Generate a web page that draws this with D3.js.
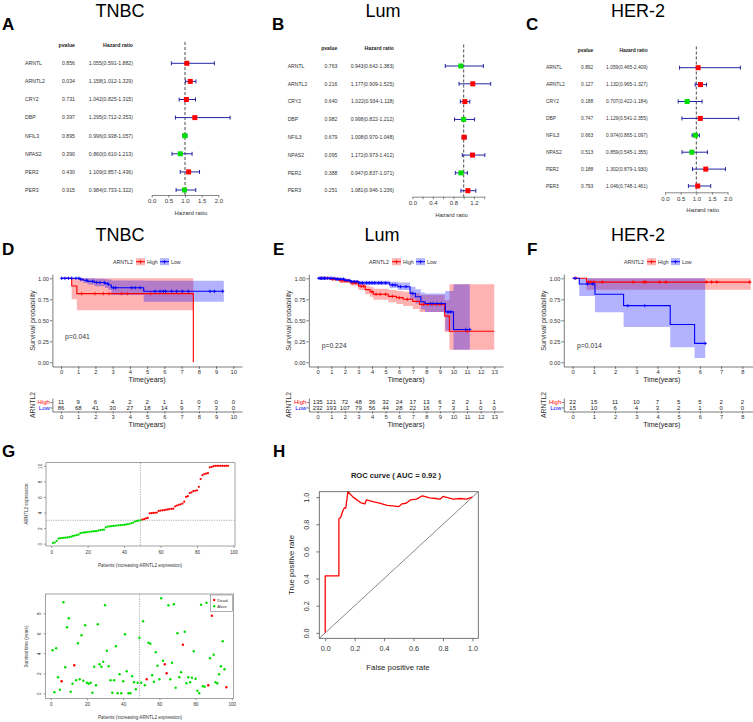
<!DOCTYPE html>
<html>
<head>
<meta charset="utf-8">
<script src="https://cdn.jsdelivr.net/npm/d3@7"></script>
<style>
  body { margin: 0; background: #fff; }
</style>
</head>
<body>
<svg id="fig" width="753" height="722"></svg>
<script>
// ---------- data ----------
const genes = ["ARNTL", "ARNTL2", "CRY2", "DBP", "NFIL3", "NPAS2", "PER2", "PER3"];

const tnbcP    = [0.856, 0.034, 0.731, 0.397, 0.895, 0.390, 0.430, 0.915];
const tnbcHR   = [1.055, 1.158, 1.042, 1.295, 0.996, 0.860, 1.109, 0.984];
const tnbcLow  = [0.591, 1.012, 0.825, 0.712, 0.938, 0.610, 0.857, 0.733];
const tnbcHigh = [1.882, 1.329, 1.315, 2.353, 1.057, 1.213, 1.436, 1.322];

const lumP    = [0.763, 0.216, 0.640, 0.982, 0.679, 0.095, 0.388, 0.251];
const lumHR   = [0.943, 1.177, 1.022, 0.998, 1.008, 1.172, 0.947, 1.081];
const lumLow  = [0.642, 0.909, 0.934, 0.822, 0.970, 0.973, 0.837, 0.946];
const lumHigh = [1.383, 1.525, 1.118, 1.212, 1.048, 1.412, 1.071, 1.236];

const her2P    = [0.892, 0.127, 0.188, 0.747, 0.663, 0.513, 0.188, 0.793];
const her2HR   = [1.059, 1.132, 0.707, 1.129, 0.974, 0.859, 1.302, 1.046];
const her2Low  = [0.465, 0.965, 0.422, 0.541, 0.865, 0.545, 0.879, 0.748];
const her2High = [2.409, 1.327, 1.184, 2.355, 1.097, 1.355, 1.930, 1.461];

const tnbcForestTicks = [0, 0.5, 1, 1.5, 2];
const lumForestTicks = [0, 0.2, 0.4, 0.6, 0.8, 1.0, 1.2, 1.4];
const lumForestLabels = [0, 0.4, 0.8, 1.2];
const her2ForestTicks = [0, 0.5, 1, 1.5, 2];

// Kaplan-Meier step data (time in years)
const tnbcHighTime   = [0, 0.62, 0.92, 7.68];
const tnbcHighSurv   = [1, 0.909, 0.818, 0];
const tnbcHighLower  = [1, 0.75, 0.62, 0.62];
const tnbcHighUpper  = [1, 1, 1, 1];
const tnbcHighCensor = [1.2, 1.97, 2.46, 2.79, 3.52, 3.85, 5.2];
const tnbcLowTime   = [0, 1.1, 1.3, 1.55, 1.95, 2.55, 2.75, 2.92, 4.8];
const tnbcLowSurv   = [1, 0.988, 0.976, 0.963, 0.95, 0.937, 0.92, 0.888, 0.845];
const tnbcLowLower  = [1, 0.965, 0.945, 0.925, 0.905, 0.885, 0.86, 0.8, 0.72];
const tnbcLowUpper  = [1, 1, 1, 1, 0.995, 0.99, 0.985, 0.975, 0.97];
const tnbcLowCensor = [0.04, 0.23, 0.43, 0.62, 0.87, 1.04, 1.16, 1.49, 1.84, 2.07, 2.26, 2.51, 2.71, 3.04, 3.17,
                       4.1, 4.3, 4.59, 5.46, 5.75, 5.94, 6.07, 6.42, 6.71, 7.04, 7.39, 8.65, 8.9, 9.38];
const tnbcRiskHigh = [11, 9, 6, 4, 2, 2, 1, 1, 0, 0, 0];
const tnbcRiskLow  = [86, 68, 41, 30, 27, 18, 14, 9, 7, 3, 0];

const lumHighTime   = [0, 0.9, 1.6, 2.4, 3.0, 3.5, 3.85, 4.1, 5.2, 5.8, 6.3, 7.0, 7.5, 9.35, 9.7];
const lumHighSurv   = [1, 0.99, 0.97, 0.945, 0.905, 0.865, 0.84, 0.81, 0.785, 0.77, 0.75, 0.725, 0.69, 0.55, 0.37];
const lumHighLower  = [1, 0.975, 0.945, 0.91, 0.86, 0.81, 0.78, 0.745, 0.715, 0.695, 0.67, 0.635, 0.6, 0.36, 0.15];
const lumHighUpper  = [1, 1, 0.99, 0.975, 0.945, 0.915, 0.895, 0.875, 0.86, 0.85, 0.84, 0.825, 0.8, 0.74, 0.93];
const lumHighCensor = [0.3, 0.5, 0.7, 1.1, 1.3, 1.5, 1.8, 2.0, 2.2, 2.6, 2.8, 3.2, 3.4, 4.0, 4.3, 4.6, 5.0, 5.5,
                       6.0, 6.6, 7.8, 8.1, 8.4, 8.7, 9.0, 11.0];
const lumLowTime   = [0, 1.3, 2.0, 2.4, 3.0, 5.3, 5.9, 6.8, 7.2, 7.6, 7.9, 9.4, 10.0];
const lumLowSurv   = [1, 0.99, 0.975, 0.96, 0.945, 0.92, 0.9, 0.82, 0.78, 0.72, 0.70, 0.60, 0.39];
const lumLowLower  = [1, 0.98, 0.96, 0.94, 0.92, 0.885, 0.86, 0.75, 0.7, 0.63, 0.6, 0.38, 0.15];
const lumLowUpper  = [1, 1, 0.99, 0.98, 0.97, 0.96, 0.95, 0.9, 0.87, 0.83, 0.82, 0.85, 0.93];
const lumLowCensor = [0.1, 0.2, 0.3, 0.4, 0.5, 0.6, 0.75, 0.9, 1.0, 1.2, 1.4, 1.5, 1.7, 1.9, 2.1, 2.3, 2.5, 2.7,
                      2.9, 3.1, 3.3, 3.6, 3.8, 4.0, 4.2, 4.5, 4.7, 5.0, 5.5, 5.7, 6.1, 6.5, 7.0, 8.3, 8.5, 8.8,
                      9.1, 9.6, 9.8, 10.9, 11.2];
const lumRiskHigh = [135, 121, 72, 48, 36, 32, 24, 17, 13, 6, 2, 2, 1, 1];
const lumRiskLow  = [232, 193, 107, 79, 56, 44, 28, 22, 16, 7, 3, 1, 0, 0];

const her2HighTime   = [0, 0.65];
const her2HighSurv   = [1, 0.955];
const her2HighLower  = [1, 0.865];
const her2HighUpper  = [1, 1];
const her2HighCensor = [0.15, 0.75, 0.85, 1.0, 1.4, 2.85, 3.35, 3.45, 4.1, 4.4, 6.3, 6.55, 6.8, 8.35];
const her2LowTime   = [0, 0.31, 1.05, 2.4, 4.6, 5.75];
const her2LowSurv   = [1, 0.933, 0.81, 0.675, 0.45, 0.225];
const her2LowLower  = [1, 0.79, 0.595, 0.42, 0.18, 0.05];
const her2LowUpper  = [1, 1, 1, 1, 1, 1];
const her2LowCensor = [0.1, 0.7, 0.95, 2.6, 3.4, 6.25];
const her2RiskHigh = [22, 15, 11, 10, 7, 5, 5, 2, 2];
const her2RiskLow  = [15, 10, 6, 4, 3, 2, 1, 0, 0];

// risk score plot: patients sorted by ARNTL2 expression
const exprValues = [0.1, 0.15, 0.35, 0.65, 0.7, 0.72, 0.75, 0.78, 0.8, 0.85,
  0.9, 1.0, 1.05, 1.1, 1.15, 1.35, 1.4, 1.45, 1.45, 1.5,
  1.52, 1.55, 1.58, 1.6, 1.62, 1.7, 1.75, 1.78, 1.8, 2.1,
  2.2, 2.22, 2.25, 2.28, 2.3, 2.32, 2.35, 2.38, 2.4, 2.42,
  2.45, 2.5, 2.55, 2.62, 2.7, 2.85, 2.92, 2.97, 3.0, 3.1,
  3.15, 3.25, 3.3, 3.9, 3.92, 3.95, 3.97, 4.0, 4.2, 4.25,
  4.28, 4.32, 4.35, 4.4, 4.45, 4.48, 4.5, 4.8, 4.9, 5.0,
  5.05, 5.15, 5.4, 6.0, 6.1, 6.5, 6.6, 6.75, 6.8, 6.85,
  7.3, 8.3, 8.8, 8.95, 9.0, 9.05, 9.8, 9.85, 9.95, 10,
  10, 10, 10, 10, 10, 10, 10];
const survTime = [4.3, 0.1, 4.5, 1.6, 0.35, 1.2, 9.1, 2.6, 6.6, 7.5,
  0.15, 0.95, 2.8, 1.3, 5.0, 1.4, 5.8, 1.25, 6.8, 1.05,
  0.95, 1.05, 0.05, 2.65, 0.8, 6.9, 2.9, 2.65, 3.15, 8.8,
  4.25, 2.7, 1.3, 0.05, 1.3, 4.7, 0.0, 1.9, 0.0, 1.2,
  5.9, 2.2, 0.0, 0.0, 1.7, 1.1, 0.4, 1.05, 5.55, 1.05,
  7.2, 0.8, 1.4, 5.05, 4.95, 1.8, 1.15, 4.1, 2.75, 1.4,
  9.5, 3.25, 2.9, 2.0, 8.8, 1.4, 3.05, 8.9, 0.55, 6.0,
  1.6, 2.1, 4.85, 6.15, 1.0, 1.6, 1.1, 1.55, 4.2, 1.45,
  0.25, 0.0, 8.85, 0.7, 0.65, 9.05, 0.8, 3.5, 7.75, 3.85,
  1.1, 1.0, 1.9, 2.7, 5.2, 2.4, 0.6];
const deadPatients = [6, 13, 53, 63, 64, 73, 87, 89, 97];
const cutPatient = 49;

const rocFPR = [0, 0, 0.093, 0.093, 0.105, 0.12, 0.13, 0.14, 0.154, 0.19, 0.24, 0.27, 0.28, 0.33, 0.37, 0.42,
  0.46, 0.5, 0.52, 0.55, 0.58, 0.62, 0.66, 0.71, 0.75, 0.78, 0.8, 0.87, 0.92, 0.96, 1.0];
const rocTPR = [0, 0.42, 0.42, 0.84, 0.85, 0.9, 0.92, 0.92, 1.04, 1.0, 0.96, 0.95, 0.98, 0.965, 0.955, 0.94,
  0.935, 0.93, 0.95, 0.955, 0.98, 0.985, 1.01, 0.995, 0.99, 0.985, 1.005, 0.985, 0.99, 0.985, 1.0];
const rocAUC = 0.92;

// ---------- drawing ----------
const RED = "#ff0000", BLUE = "#0000ff", GREEN = "#00dd00", BAR = "#2424a4";
const svg = d3.select("#fig").attr("font-family", '"Liberation Sans", Arial, Helvetica, sans-serif');
svg.append("rect").attr("width", 753).attr("height", 722).attr("fill", "#fff");

function txt(g, x, y, s, o = {}) {
  const t = g.append("text").attr("x", x).attr("y", y).text(s)
    .attr("font-size", o.fs || 6).attr("fill", o.fill || "#222")
    .attr("text-anchor", o.anchor || "start");
  if (o.bold) t.attr("font-weight", "bold");
  if (o.dy) t.attr("dy", o.dy);
  if (o.rot) t.attr("transform", `rotate(-90,${x},${y})`);
  return t;
}

function styleAxis(sel, fs, col, sw) {
  sel.attr("font-family", null).attr("font-size", fs);
  sel.selectAll("path, line").attr("stroke", col).attr("stroke-width", sw);
  sel.selectAll("text").attr("fill", "#333");
}

// panel titles and letters
[["TNBC", 120, 16.5], ["Lum", 383, 16.5], ["HER-2", 638, 16.5],
 ["TNBC", 120, 240.5], ["Lum", 382, 240.5], ["HER-2", 638, 240.5]]
  .forEach(([s, x, y]) => txt(svg, x, y, s, {fs: 18, anchor: "middle", fill: "#000"}));
[["A", 2, 30], ["B", 272, 30], ["C", 526, 30], ["D", 2, 255], ["E", 273, 255], ["F", 527, 255],
 ["G", 2, 457], ["H", 273, 457]]
  .forEach(([s, x, y]) => txt(svg, x, y, s, {fs: 17, bold: true, fill: "#000"}));

// ---------- forest plots ----------
function forest(cfg) {
  const g = svg.append("g");
  const fs = cfg.fs;
  const x = d3.scaleLinear().domain([0, cfg.axisMax]).range([cfg.axis0, cfg.axis0 + cfg.axisMax * cfg.unit]);
  const y = d3.scalePoint().domain(genes).range([cfg.rowTop, cfg.rowBottom]);

  txt(g, cfg.pRight, cfg.headerY, "pvalue", {fs, anchor: "end", bold: true});
  txt(g, cfg.hrRight, cfg.headerY, "Hazard ratio", {fs, anchor: "end", bold: true});
  genes.forEach((name, i) => {
    const yy = y(name);
    txt(g, cfg.geneX, yy, name, {fs, dy: "0.35em", fill: "#333"});
    txt(g, cfg.pRight, yy, cfg.p[i].toFixed(3), {fs, anchor: "end", dy: "0.35em", fill: "#333"});
    txt(g, cfg.hrRight, yy, `${cfg.hr[i].toFixed(3)}(${cfg.lo[i].toFixed(3)}-${cfg.hi[i].toFixed(3)})`,
      {fs, anchor: "end", dy: "0.35em", fill: "#333"});
  });

  g.append("line").attr("x1", x(1)).attr("x2", x(1))
    .attr("y1", cfg.headerY - 5).attr("y2", cfg.axisY)
    .attr("stroke", "#333").attr("stroke-width", 0.9).attr("stroke-dasharray", "3,2");

  const rows = g.selectAll("g.row").data(genes).join("g").attr("class", "row");
  rows.append("line")
    .attr("x1", (d, i) => x(cfg.lo[i])).attr("x2", (d, i) => x(cfg.hi[i]))
    .attr("y1", d => y(d)).attr("y2", d => y(d))
    .attr("stroke", BAR).attr("stroke-width", 1);
  ["lo", "hi"].forEach(k => {
    rows.append("line")
      .attr("x1", (d, i) => x(cfg[k][i])).attr("x2", (d, i) => x(cfg[k][i]))
      .attr("y1", d => y(d) - 2).attr("y2", d => y(d) + 2)
      .attr("stroke", BAR).attr("stroke-width", 1);
  });
  rows.append("rect")
    .attr("x", (d, i) => x(cfg.hr[i]) - 2.5).attr("y", d => y(d) - 2.5)
    .attr("width", 5).attr("height", 5)
    .attr("fill", (d, i) => cfg.hr[i] > 1 ? RED : GREEN);

  const ax = g.append("g").attr("transform", `translate(0,${cfg.axisY})`)
    .call(d3.axisBottom(x).tickValues(cfg.ticks).tickSize(2.5).tickSizeOuter(0).tickPadding(1.5)
      .tickFormat(d => cfg.labels.some(l => Math.abs(l - d) < 1e-9) ? d.toFixed(1) : ""));
  styleAxis(ax, 6, "#555", 0.7);
  txt(g, x(d3.max(cfg.hi) / 2), cfg.axisY + 20, "Hazard ratio", {fs: 6, anchor: "middle", fill: "#333"});
}

forest({p: tnbcP, hr: tnbcHR, lo: tnbcLow, hi: tnbcHigh, fs: 5.2,
  geneX: 25, pRight: 75, hrRight: 133, headerY: 47, rowTop: 63.3, rowBottom: 190,
  axis0: 151.7, unit: 33.3, axisMax: 2, ticks: tnbcForestTicks, labels: tnbcForestTicks, axisY: 195});
forest({p: lumP, hr: lumHR, lo: lumLow, hi: lumHigh, fs: 5.1,
  geneX: 287.7, pRight: 337.3, hrRight: 394, headerY: 49.5, rowTop: 66, rowBottom: 190.7,
  axis0: 412.3, unit: 51.4, axisMax: 1.4, ticks: lumForestTicks, labels: lumForestLabels, axisY: 196.7});
forest({p: her2P, hr: her2HR, lo: her2Low, hi: her2High, fs: 4.9,
  geneX: 546, pRight: 593.3, hrRight: 647.7, headerY: 51.5, rowTop: 67.7, rowBottom: 186,
  axis0: 665, unit: 31.3, axisMax: 2, ticks: her2ForestTicks, labels: her2ForestTicks, axisY: 192.3});

// ---------- Kaplan-Meier panels ----------
function kmPanel(cfg) {
  const g = svg.append("g");
  const lo = -0.05 * cfg.span, hi = 1.05 * cfg.span;
  const x = d3.scaleLinear().domain([lo, hi]).range([cfg.x0 + lo * cfg.ppy, cfg.x0 + hi * cfg.ppy]);
  const y = d3.scaleLinear().domain([-0.05, 1.05]).range([366.5, 274.1]);
  const left = x(lo), mid = (x(lo) + x(hi)) / 2;
  const ticks = d3.range(0, cfg.tickMax + 1);

  const steps = c => c.time.map((t, i) => ({t, s: c.surv[i], lo: c.lower[i], hi: c.upper[i]}))
    .concat([{t: c.end, s: c.surv[c.surv.length - 1], lo: c.lower[c.lower.length - 1], hi: c.upper[c.upper.length - 1]}]);

  cfg.curves.forEach(c => {
    g.append("path").datum(steps(c))
      .attr("d", d3.area().curve(d3.curveStepAfter).x(d => x(d.t)).y0(d => y(d.lo)).y1(d => y(d.hi)))
      .attr("fill", c.color).attr("fill-opacity", 0.3);
  });
  cfg.curves.forEach(c => {
    g.append("path").datum(steps(c))
      .attr("d", d3.line().curve(d3.curveStepAfter).x(d => x(d.t)).y(d => y(d.s)))
      .attr("fill", "none").attr("stroke", c.color).attr("stroke-width", 1.1);
    const survAt = t => c.surv[Math.max(0, d3.bisectRight(c.time, t) - 1)];
    g.selectAll(null).data(c.censor).join("path")
      .attr("d", "M-1.7,0H1.7M0,-1.7V1.7")
      .attr("transform", t => `translate(${x(t)},${y(survAt(t))})`)
      .attr("stroke", c.color).attr("stroke-width", 0.9);
  });

  const ax = g.append("g").attr("transform", "translate(0,366.5)")
    .call(d3.axisBottom(x).tickValues(ticks).tickSize(2.5).tickSizeOuter(0).tickPadding(1.2));
  styleAxis(ax, 5.8, "#222", 0.6);
  const ay = g.append("g").attr("transform", `translate(${left},0)`)
    .call(d3.axisLeft(y).tickValues([0, 0.25, 0.5, 0.75, 1]).tickFormat(d3.format(".2f"))
      .tickSize(2.5).tickSizeOuter(0).tickPadding(1));
  styleAxis(ay, 5.6, "#222", 0.6);
  txt(g, mid, 381.5, "Time(years)", {fs: 7, anchor: "middle"});
  txt(g, left - 17.4, 320.5, "Survival probability", {fs: 7.2, anchor: "middle", rot: true, fill: "#333"});
  txt(g, cfg.pX, cfg.pY, cfg.pText, {fs: 6.8, fill: "#333"});

  // legend
  const lg = g.append("g").attr("transform", `translate(${cfg.legendX},261.7)`);
  txt(lg, 0, 0, "ARNTL2", {fs: 5.2, dy: "0.35em", fill: "#333"});
  [["High", RED, 23, 34], ["Low", BLUE, 47, 58]].forEach(([lab, col, bx, tx]) => {
    lg.append("rect").attr("x", bx).attr("y", -3.5).attr("width", 9).attr("height", 7)
      .attr("fill", col).attr("fill-opacity", 0.3);
    lg.append("line").attr("x1", bx).attr("x2", bx + 9).attr("stroke", col).attr("stroke-width", 1);
    lg.append("path").attr("d", `M${bx + 2.8},0H${bx + 6.2}M${bx + 4.5},-1.7V1.7`)
      .attr("stroke", col).attr("stroke-width", 0.9);
    txt(lg, tx, 0, lab, {fs: 5.2, dy: "0.35em", fill: "#333"});
  });

  // risk table
  const ry = d3.scalePoint().domain(["High", "Low"]).range([398, 411.5]).padding(0.75);
  cfg.risk.forEach((vals, k) => {
    const key = ry.domain()[k];
    g.selectAll(null).data(vals).join("text")
      .attr("x", (d, i) => x(ticks[i])).attr("y", ry(key)).attr("dy", "0.35em")
      .attr("text-anchor", "middle").attr("font-size", 6).attr("fill", "#222")
      .text(d => d);
  });
  const rx = g.append("g").attr("transform", "translate(0,411.5)")
    .call(d3.axisBottom(x).tickValues(ticks).tickSize(2).tickSizeOuter(0).tickPadding(1));
  styleAxis(rx, 5.8, "#222", 0.6);
  const rya = g.append("g").attr("transform", `translate(${left},0)`)
    .call(d3.axisLeft(ry).tickSize(2).tickSizeOuter(0).tickPadding(0.5));
  styleAxis(rya, 6, "#222", 0.6);
  rya.selectAll("text").attr("fill", d => d === "High" ? RED : BLUE);
  txt(g, mid, 427, "Time(years)", {fs: 7, anchor: "middle"});
  txt(g, left - 17.5, 405, "ARNTL2", {fs: 6.8, anchor: "middle", rot: true, fill: "#333"});
}

kmPanel({x0: 61, ppy: 17.23, span: 10, tickMax: 10, legendX: 113, pText: "p=0.041", pX: 65, pY: 338.5,
  risk: [tnbcRiskHigh, tnbcRiskLow],
  curves: [
    {time: tnbcHighTime, surv: tnbcHighSurv, lower: tnbcHighLower, upper: tnbcHighUpper, end: 7.68, censor: tnbcHighCensor, color: RED},
    {time: tnbcLowTime, surv: tnbcLowSurv, lower: tnbcLowLower, upper: tnbcLowUpper, end: 9.45, censor: tnbcLowCensor, color: BLUE}]});
kmPanel({x0: 317.7, ppy: 13.58, span: 13, tickMax: 13, legendX: 369, pText: "p=0.224", pX: 321.7, pY: 348,
  risk: [lumRiskHigh, lumRiskLow],
  curves: [
    {time: lumHighTime, surv: lumHighSurv, lower: lumHighLower, upper: lumHighUpper, end: 13, censor: lumHighCensor, color: RED},
    {time: lumLowTime, surv: lumLowSurv, lower: lumLowLower, upper: lumLowUpper, end: 11.2, censor: lumLowCensor, color: BLUE}]});
kmPanel({x0: 572.7, ppy: 21.2, span: 8.4, tickMax: 8, legendX: 624, pText: "p=0.014", pX: 577, pY: 348,
  risk: [her2RiskHigh, her2RiskLow],
  curves: [
    {time: her2HighTime, surv: her2HighSurv, lower: her2HighLower, upper: her2HighUpper, end: 8.4, censor: her2HighCensor, color: RED},
    {time: her2LowTime, surv: her2LowSurv, lower: her2LowLower, upper: her2LowUpper, end: 6.25, censor: her2LowCensor, color: BLUE}]});

// ---------- G: risk plots ----------
function baseAxes(g, x, y, box, xTicks, yTicks, fs) {
  g.append("rect").attr("x", box[0]).attr("y", box[1]).attr("width", box[2] - box[0]).attr("height", box[3] - box[1])
    .attr("fill", "none").attr("stroke", "#666").attr("stroke-width", 0.6);
  const ax = g.append("g").attr("transform", `translate(0,${box[3]})`)
    .call(d3.axisBottom(x).tickValues(xTicks).tickSize(2).tickSizeOuter(0).tickPadding(2.5));
  ax.select(".domain").remove();
  styleAxis(ax, fs, "#666", 0.6);
  const ay = g.append("g").attr("transform", `translate(${box[0]},0)`)
    .call(d3.axisLeft(y).tickValues(yTicks).tickSize(2).tickSizeOuter(0));
  ay.select(".domain").remove();
  styleAxis(ay, fs, "#666", 0.6);
  ay.selectAll("text").attr("transform", "rotate(-90)").attr("x", 0).attr("y", -4.5).attr("dy", 0)
    .attr("text-anchor", "middle");
}

(function () {
  const g = svg.append("g");
  const patients = d3.range(1, exprValues.length + 1);
  const x = d3.scaleLinear().domain([-2.84, 100.84]).range([46, 235]);
  const y = d3.scaleLinear().domain([-0.3, 10.4]).range([546, 462.7]);
  baseAxes(g, x, y, [46, 462.7, 235, 546], [0, 20, 40, 60, 80, 100], [0, 2, 4, 6, 8, 10], 4.6);
  const cut = exprValues[cutPatient - 1];
  g.append("line").attr("x1", x(cutPatient)).attr("x2", x(cutPatient)).attr("y1", 462.7).attr("y2", 546)
    .attr("stroke", "#777").attr("stroke-width", 0.6).attr("stroke-dasharray", "1.2,1.2");
  g.append("line").attr("x1", 46).attr("x2", 235).attr("y1", y(cut)).attr("y2", y(cut))
    .attr("stroke", "#777").attr("stroke-width", 0.6).attr("stroke-dasharray", "1.2,1.2");
  g.selectAll(null).data(patients).join("circle")
    .attr("cx", d => x(d)).attr("cy", d => y(exprValues[d - 1])).attr("r", 1.1)
    .attr("fill", d => d <= cutPatient ? GREEN : RED);
  txt(g, 140, 567, "Patients (increasing ARNTL2 expression)", {fs: 4.6, anchor: "middle", fill: "#333"});
  txt(g, 28.3, 504, "ARNTL2 expression", {fs: 4.6, anchor: "middle", rot: true, fill: "#333"});
})();

(function () {
  const g = svg.append("g");
  const patients = d3.range(1, survTime.length + 1);
  const x = d3.scaleLinear().domain([-2.84, 100.84]).range([45.6, 233.3]);
  const y = d3.scaleLinear().domain([-0.38, 9.88]).range([697.1, 594.5]);
  baseAxes(g, x, y, [45.6, 594, 233.3, 698.3], [0, 20, 40, 60, 80, 100], [0, 2, 4, 6, 8], 4.6);
  g.append("line").attr("x1", x(cutPatient)).attr("x2", x(cutPatient)).attr("y1", 594).attr("y2", 698.3)
    .attr("stroke", "#777").attr("stroke-width", 0.6).attr("stroke-dasharray", "1.2,1.2");
  g.selectAll(null).data(patients).join("circle")
    .attr("cx", d => x(d)).attr("cy", d => y(survTime[d - 1])).attr("r", 1.2)
    .attr("fill", d => deadPatients.includes(d) ? RED : GREEN);
  const lg = g.append("g").attr("transform", "translate(210.7,595)");
  lg.append("rect").attr("width", 21.6).attr("height", 16.7).attr("fill", "#fff")
    .attr("stroke", "#666").attr("stroke-width", 0.5);
  [["Dead", RED, 5], ["Alive", GREEN, 11.2]].forEach(([lab, col, yy]) => {
    lg.append("circle").attr("cx", 3.5).attr("cy", yy).attr("r", 1.2).attr("fill", col);
    txt(lg, 6.5, yy, lab, {fs: 4.4, dy: "0.35em", fill: "#333"});
  });
  txt(g, 140, 718.5, "Patients (increasing ARNTL2 expression)", {fs: 4.6, anchor: "middle", fill: "#333"});
  txt(g, 27.6, 646.5, "Survival time (years)", {fs: 4.6, anchor: "middle", rot: true, fill: "#333"});
})();

// ---------- H: ROC ----------
(function () {
  const g = svg.append("g");
  const x = d3.scaleLinear().domain([-0.04, 1.04]).range([319.3, 478.3]);
  const y = d3.scaleLinear().domain([-0.04, 1.04]).range([638.3, 491.7]);
  const ticks = [0, 0.2, 0.4, 0.6, 0.8, 1.0];
  g.append("line").attr("x1", x(-0.04)).attr("y1", y(-0.04)).attr("x2", x(1.04)).attr("y2", y(1.04))
    .attr("stroke", "#555").attr("stroke-width", 0.7);
  g.append("path").datum(rocFPR.map((f, i) => [f, rocTPR[i]]))
    .attr("d", d3.line().x(d => x(d[0])).y(d => y(d[1])))
    .attr("fill", "none").attr("stroke", RED).attr("stroke-width", 1.3).attr("stroke-linejoin", "round");
  g.append("rect").attr("x", 319.3).attr("y", 491.7).attr("width", 159).attr("height", 146.6)
    .attr("fill", "none").attr("stroke", "#555").attr("stroke-width", 0.8);
  const ax = g.append("g").attr("transform", "translate(0,638.3)")
    .call(d3.axisBottom(x).tickValues(ticks).tickFormat(d3.format(".1f")).tickSize(3).tickSizeOuter(0).tickPadding(5));
  ax.select(".domain").remove();
  styleAxis(ax, 7.2, "#555", 0.8);
  const ay = g.append("g").attr("transform", "translate(319.3,0)")
    .call(d3.axisLeft(y).tickValues(ticks).tickFormat(d3.format(".1f")).tickSize(3).tickSizeOuter(0));
  ay.select(".domain").remove();
  styleAxis(ay, 7.2, "#555", 0.8);
  ay.selectAll("text").attr("transform", "rotate(-90)").attr("x", 0).attr("y", -10).attr("dy", 0)
    .attr("text-anchor", "middle");
  txt(g, 396, 478, `ROC curve ( AUC =  ${rocAUC.toFixed(2)} )`, {fs: 7.6, anchor: "middle", bold: true});
  txt(g, 398, 670, "False positive rate", {fs: 7.8, anchor: "middle"});
  txt(g, 293.5, 565, "True positive rate", {fs: 7.8, anchor: "middle", rot: true});
})();
</script>
</body>
</html>
